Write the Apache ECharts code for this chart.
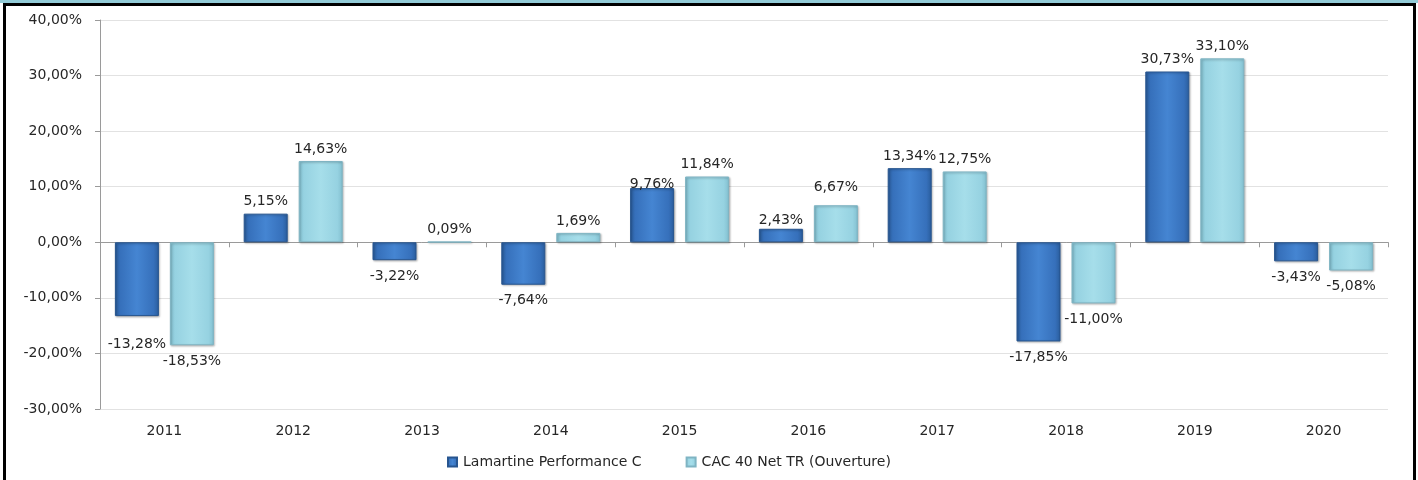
<!DOCTYPE html>
<html>
<head>
<meta charset="utf-8">
<script src="https://cdn.jsdelivr.net/npm/echarts@6/dist/echarts.min.js"></script>
<style>
    html, body { margin: 0; padding: 0; background: #fff; }
    #wrap { position: relative; width: 1418px; height: 480px; overflow: hidden; }
    #chart { position: absolute; left: 0; top: 0; width: 1418px; height: 480px; }
    .bd { position: absolute; background: #000; }
</style>
</head>
<body>
<div id="wrap">
    <div id="chart"></div>
    <div style="position:absolute;left:0;top:0;width:1418px;height:3px;background:#92cbd7"></div>
    <div class="bd" style="left:3px;top:3px;width:1413px;height:3px"></div>
    <div class="bd" style="left:3px;top:3px;width:3px;height:477px"></div>
    <div class="bd" style="left:1413px;top:3px;width:3px;height:477px"></div>
</div>
<script>
var years = ['2011', '2012', '2013', '2014', '2015', '2016', '2017', '2018', '2019', '2020'];
var lamartine = [-13.28, 5.15, -3.22, -7.64, 9.76, 2.43, 13.34, -17.85, 30.73, -3.43];
var cac40 = [-18.53, 14.63, 0.09, 1.69, 11.84, 6.67, 12.75, -11.00, 33.10, -5.08];
var seriesNames = ['Lamartine Performance C', 'CAC 40 Net TR (Ouverture)'];

var FONT = 'DejaVu Sans, Verdana, sans-serif';

// decalage vertical de quelques etiquettes (comme dans Excel)
var labelShift = [
    {0: 12, 4: 8, 5: 4},
    {5: -6}
];

function pct(v) {
    return v.toFixed(2).replace('.', ',') + '%';
}

function bevel(edge, mid, light) {
    return new echarts.graphic.LinearGradient(0, 0, 1, 0, [
        {offset: 0, color: edge},
        {offset: 0.12, color: mid},
        {offset: 0.5, color: light},
        {offset: 0.88, color: mid},
        {offset: 1, color: edge}
    ]);
}

function buildData(values, shift) {
    return values.map(function (v, i) {
        var neg = v < 0;
        return {
            value: v,
            label: {
                position: neg ? 'bottom' : 'top',
                distance: neg ? 9 : 5,
                offset: [0, shift[i] || 0]
            }
        };
    });
}

var chart = echarts.init(document.getElementById('chart'));

var option = {
    animation: false,
    textStyle: {fontFamily: FONT},
    grid: {left: 100, right: 30, top: 20, bottom: 71, containLabel: false},
    legend: {
        data: seriesNames,
        bottom: 6,
        left: 442,
        itemWidth: 9,
        itemHeight: 9,
        itemGap: 44,
        icon: 'rect',
        textStyle: {fontFamily: FONT, fontSize: 14, color: '#262626', padding: [0, 0, 0, 1]}
    },
    xAxis: [{
        type: 'category',
        data: years,
        position: 'bottom',
        axisLine: {onZero: false, show: false},
        axisTick: {show: false},
        axisLabel: {fontFamily: FONT, fontSize: 14, color: '#262626', margin: 15}
    }, {
        type: 'category',
        data: years,
        position: 'bottom',
        axisLine: {onZero: true, lineStyle: {color: '#9a9a9a', width: 1}},
        axisTick: {show: true, length: 5, lineStyle: {color: '#9a9a9a'}},
        axisLabel: {show: false}
    }],
    yAxis: {
        type: 'value',
        min: -30,
        max: 40,
        interval: 10,
        axisLine: {show: true, lineStyle: {color: '#9a9a9a'}},
        axisTick: {show: true, length: 5, lineStyle: {color: '#9a9a9a'}},
        splitLine: {lineStyle: {color: '#e2e2e2'}},
        axisLabel: {
            fontFamily: FONT, fontSize: 14, color: '#262626', margin: 18,
            formatter: function (v) { return pct(v); }
        }
    },
    series: [{
        name: seriesNames[0],
        type: 'bar',
        xAxisIndex: 0,
        data: buildData(lamartine, labelShift[0]),
        barWidth: 44,
        barGap: '25%',
        itemStyle: {
            color: bevel('#2a5d9c', '#3670bb', '#4585d2'),
            borderColor: '#27558f',
            borderWidth: 1,
            shadowColor: 'rgba(0,0,0,0.25)',
            shadowBlur: 2,
            shadowOffsetX: 1,
            shadowOffsetY: 1
        },
        label: {
            show: true,
            fontFamily: FONT, fontSize: 14, color: '#262626',
            formatter: function (p) { return pct(p.value); }
        }
    }, {
        name: seriesNames[1],
        type: 'bar',
        xAxisIndex: 0,
        data: buildData(cac40, labelShift[1]),
        barWidth: 44,
        barGap: '25%',
        itemStyle: {
            color: bevel('#82bfcf', '#96d2e1', '#a6deea'),
            borderColor: '#7fb4c3',
            borderWidth: 1,
            shadowColor: 'rgba(0,0,0,0.25)',
            shadowBlur: 2,
            shadowOffsetX: 1,
            shadowOffsetY: 1
        },
        label: {
            show: true,
            fontFamily: FONT, fontSize: 14, color: '#262626',
            formatter: function (p) { return pct(p.value); }
        }
    }]
};

chart.setOption(option);
</script>
</body>
</html>
